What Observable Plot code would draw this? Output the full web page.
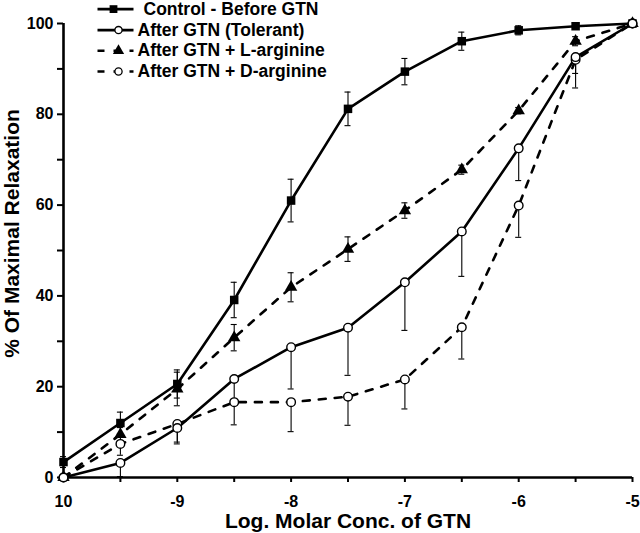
<!DOCTYPE html>
<html><head><meta charset="utf-8">
<script src="https://cdn.jsdelivr.net/npm/d3@7"></script>
<script src="https://cdn.jsdelivr.net/npm/@observablehq/plot@0.6"></script>
<style>body{margin:0;background:#fff} svg{display:block}</style>
</head><body><div id="chart"></div>
<script>
// ---- data ----
const logConc = [-10, -9.5, -9, -8.5, -8, -7.5, -7, -6.5, -6, -5.5, -5];
const control = [3.4, 12.0, 20.6, 39.1, 61.0, 81.2, 89.4, 96.1, 98.5, 99.4, 100];
const controlErr = [1.2, 2.4, 3.1, 3.9, 4.7, 3.7, 2.9, 2.0, 1.0, 0.6, 0];
const tolerant = [0, 3.2, 10.9, 21.7, 28.7, 33.0, 43.0, 54.2, 72.5, 92.6, 100];
const tolerantErr = [0, 3.0, 3.5, 4.5, 9.2, 10.5, 10.6, 9.9, 7.1, 6.8, 0];
const lArginine = [0, 9.5, 19.5, 30.8, 41.9, 50.3, 58.8, 67.8, 80.8, 96.1, 100];
const lArginineErr = [0, 1.5, 3.7, 2.9, 3.2, 2.7, 1.7, 1.0, 0.7, 1.0, 0];
const dArginine = [0, 7.4, 11.8, 16.6, 16.6, 17.8, 21.6, 33.1, 59.9, 92.0, 100];
const dArginineErr = [0, 2.5, 4.0, 5.0, 6.5, 6.3, 6.5, 7.0, 7.0, 3.0, 0];

const seriesNames = ["Control - Before GTN", "After GTN (Tolerant)", "After GTN + L-arginine", "After GTN + D-arginine"];
const xTickValues = [-10, -9.5, -9, -8.5, -8, -7.5, -7, -6.5, -6, -5.5, -5];
const xTickLabels = {"-10": "10", "-9": "-9", "-8": "-8", "-7": "-7", "-6": "-6", "-5": "-5"};
const yTickValues = [0, 10, 20, 30, 40, 50, 60, 70, 80, 90, 100];
const yTickLabels = [0, 20, 40, 60, 80, 100];
const xTitle = "Log. Molar Conc. of GTN";
const yTitle = "% Of Maximal Relaxation";

// ---- layout ----
const W = 640, H = 533, mL = 63, mR = 8, mT = 23, mB = 56;
const xFromPx = px => -10 + (px - mL) / (W - mL - mR) * 5;
const yFromPx = py => 100 * (H - mB - py) / (H - mT - mB);

const rows = (vals, errs) => logConc.map((x, i) => ({x, y: vals[i], e: errs[i]}));
const ctrlRows = rows(control, controlErr);
const tolRows = rows(tolerant, tolerantErr);
const lRows = rows(lArginine, lArginineErr);
const dRows = rows(dArginine, dArginineErr);

const capHalf = xFromPx(mL + 3) - xFromPx(mL);
const twoWay = [...ctrlRows, ...lRows].filter(d => d.e > 0);
const twoWayCaps = twoWay.flatMap(d => [{x: d.x, y: d.y + d.e}, {x: d.x, y: d.y - d.e}]);
const oneWay = [...tolRows, ...dRows].filter(d => d.e > 0);
const oneWayCaps = oneWay.map(d => ({x: d.x, y: d.y - d.e}));

const legendY = [8.6, 29.6, 50.3, 71];
const legendRows = seriesNames.map((name, i) => ({
  name, i,
  y: yFromPx(legendY[i]),
  tx: xFromPx(i === 0 ? 143 : 137),
  x1: xFromPx(97), x2: xFromPx(133),
  mx: xFromPx(i === 0 ? 113 : 118)
}));

const font = "'Liberation Sans', Arial, Helvetica, sans-serif";
const dash = "7,9";
const lw = 2.6;

const chart = Plot.plot({
  width: W, height: H,
  marginLeft: mL, marginRight: mR, marginTop: mT, marginBottom: mB,
  style: {fontFamily: font, fontSize: "16px", fontWeight: "bold", color: "#000", background: "#fff"},
  x: {domain: [-10, -5], axis: null},
  y: {domain: [0, 100], axis: null},
  marks: [
    Plot.axisX({ticks: xTickValues, tickSize: 5, tickPadding: 13, strokeWidth: 2, label: null, fontSize: 16,
      tickFormat: d => xTickLabels[String(d)] ?? ""}),
    Plot.axisY({ticks: yTickValues, tickSize: 6, tickPadding: 4, strokeWidth: 2, label: null, fontSize: 16,
      tickFormat: d => yTickLabels.includes(d) ? String(d) : ""}),
    Plot.ruleY([0], {x1: -10, x2: -5, strokeWidth: 2.6}),
    Plot.ruleX([-10], {y1: 0, y2: 100, strokeWidth: 2.6}),
    // error bars
    Plot.ruleX(twoWay, {x: "x", y1: d => d.y - d.e, y2: d => d.y + d.e, strokeWidth: 1.1}),
    Plot.ruleY(twoWayCaps, {y: "y", x1: d => d.x - capHalf, x2: d => d.x + capHalf, strokeWidth: 1.1}),
    Plot.ruleX(oneWay, {x: "x", y1: d => d.y - d.e, y2: "y", strokeWidth: 1.1}),
    Plot.ruleY(oneWayCaps, {y: "y", x1: d => d.x - capHalf, x2: d => d.x + capHalf, strokeWidth: 1.1}),
    // lines
    Plot.line(ctrlRows, {x: "x", y: "y", strokeWidth: lw}),
    Plot.line(tolRows, {x: "x", y: "y", strokeWidth: lw}),
    Plot.line(lRows, {x: "x", y: "y", strokeWidth: lw, strokeDasharray: dash}),
    Plot.line(dRows, {x: "x", y: "y", strokeWidth: lw, strokeDasharray: dash}),
    // markers
    Plot.dot(ctrlRows, {x: "x", y: "y", symbol: "square", r: 4.8, fill: "#000"}),
    Plot.dot(lRows, {x: "x", y: "y", symbol: "triangle", r: 4.6, fill: "#000"}),
    Plot.dot(dRows, {x: "x", y: "y", symbol: "circle", r: 4.3, fill: "#fff", stroke: "#000", strokeWidth: 1.4}),
    Plot.dot(tolRows, {x: "x", y: "y", symbol: "circle", r: 4.3, fill: "#fff", stroke: "#000", strokeWidth: 1.4}),
    // legend
    Plot.link(legendRows.filter(d => d.i < 2), {x1: "x1", x2: "x2", y1: "y", y2: "y", strokeWidth: lw}),
    Plot.link(legendRows.filter(d => d.i >= 2), {x1: "x1", x2: "x2", y1: "y", y2: "y", strokeWidth: lw, strokeDasharray: dash}),
    Plot.dot(legendRows.filter(d => d.i === 0), {x: "mx", y: "y", symbol: "square", r: 4.4, fill: "#000"}),
    Plot.dot(legendRows.filter(d => d.i === 2), {x: "mx", y: "y", symbol: "triangle", r: 4.2, fill: "#000"}),
    Plot.dot(legendRows.filter(d => d.i === 1 || d.i === 3), {x: "mx", y: "y", symbol: "circle", r: 3.6, fill: "#fff", stroke: "#000", strokeWidth: 1.3}),
    Plot.text(legendRows, {x: "tx", y: "y", text: "name", textAnchor: "start", lineAnchor: "middle", fontSize: 17.5, fontWeight: "bold", fill: "#000"}),
    // axis titles
    Plot.text([xTitle], {text: d => d, frameAnchor: "bottom", textAnchor: "middle", lineAnchor: "middle", dy: 44, fontSize: 21, fontWeight: "bold", fill: "#000"}),
    Plot.text([yTitle], {text: d => d, frameAnchor: "left", textAnchor: "middle", lineAnchor: "middle", rotate: -90, dx: -51, dy: -17, fontSize: 21, fontWeight: "bold", fill: "#000"})
  ]
});
document.getElementById("chart").append(chart);
</script>
</body></html>
